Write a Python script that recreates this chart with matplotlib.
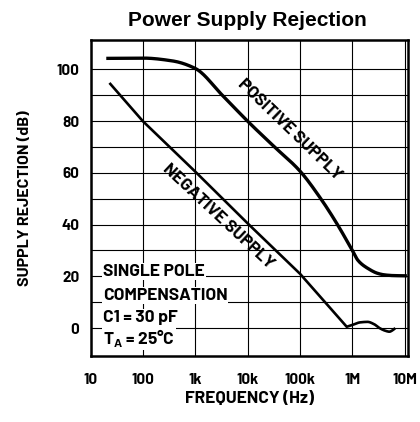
import numpy as np
import matplotlib.pyplot as plt
from matplotlib import font_manager as fm
from matplotlib.ticker import FixedLocator, NullLocator

# values (dB vs Hz)
pos_freq = [20, 100, 370, 1e3, 3.3e3, 1e4, 3.16e4, 1e5, 2.5e5, 5.2e5, 1e6, 1.3e6, 2e6, 3e6, 4e6, 6e6, 1.1e7]
pos_db = [104.3, 104.4, 103.3, 100.4, 90, 80, 70.3, 60.7, 50, 40, 30, 26, 23, 21.2, 20.6, 20.3, 20.2]

neg_freq = [23, 100, 1e3, 1e4, 1e5, 7.8e5]
neg_db = [94.8, 80, 60.5, 40.5, 21, 0.5]
wig_freq = [7.8e5, 1e6, 1.4e6, 1.95e6, 2.6e6, 3.3e6, 4.2e6, 5.1e6, 5.8e6, 6.6e6]
wig_db = [0.5, 1.2, 2.2, 2.4, 1.5, 0.0, -1.0, -1.4, -0.9, 0.0]

x_ticks = [10, 100, 1e3, 1e4, 1e5, 1e6, 1e7]
x_labels = ['10', '100', '1k', '10k', '100k', '1M', '10M']
y_ticks = [0, 20, 40, 60, 80, 100]
y_grid = [10, 30, 50, 70, 90]

notes = ['SINGLE POLE', 'COMPENSATION', 'C1 = 30 pF', r'T$_{\mathbf{A}}$ = 25°C']


def pick_font(names):
    for n in names:
        try:
            fm.findfont(fm.FontProperties(family=n, weight='bold'), fallback_to_default=False)
            return n
        except ValueError:
            pass
    return 'DejaVu Sans'


NARROW = pick_font(['Barlow', 'Barlow Semi Condensed', 'Asap Condensed'])
plt.rcParams['font.family'] = [NARROW, 'DejaVu Sans']
plt.rcParams['mathtext.fontset'] = 'custom'
plt.rcParams['mathtext.bf'] = NARROW + ':bold'
plt.rcParams['mathtext.rm'] = NARROW + ':bold'


def pchip(x, y, xs):
    x = np.asarray(x, float)
    y = np.asarray(y, float)
    h = np.diff(x)
    dlt = np.diff(y) / h
    m = np.zeros_like(y)
    for k in range(1, len(y) - 1):
        if dlt[k - 1] * dlt[k] > 0:
            w1 = 2 * h[k] + h[k - 1]
            w2 = h[k] + 2 * h[k - 1]
            m[k] = (w1 + w2) / (w1 / dlt[k - 1] + w2 / dlt[k])
    m[0] = dlt[0]
    m[-1] = dlt[-1]
    out = np.empty_like(xs)
    for i, xv in enumerate(xs):
        k = min(max(np.searchsorted(x, xv) - 1, 0), len(h) - 1)
        t = (xv - x[k]) / h[k]
        out[i] = ((2 * t**3 - 3 * t**2 + 1) * y[k] + (t**3 - 2 * t**2 + t) * h[k] * m[k]
                  + (-2 * t**3 + 3 * t**2) * y[k + 1] + (t**3 - t**2) * h[k] * m[k + 1])
    return out


def smooth(f, d, n=300):
    lf = np.log10(f)
    xs = np.linspace(lf[0], lf[-1], n)
    return 10 ** xs, pchip(lf, d, xs)


fig = plt.figure(figsize=(4.2, 4.22), dpi=100)
ax = fig.add_axes([0.2155, 0.1564, 0.7548, 0.7488])

px, py = smooth(pos_freq, pos_db)
wx, wy = smooth(wig_freq, wig_db)
ax.plot(px, py, color='black', lw=2.4, solid_capstyle='butt', zorder=3)
ax.plot(np.r_[neg_freq, wx[1:]], np.r_[neg_db, wy[1:]], color='black', lw=1.9,
        solid_capstyle='butt', solid_joinstyle='round', zorder=3)

ax.set_xscale('log')
ax.set_xlim(10, 1.13e7)
ax.set_ylim(-10.8, 111.4)

ax.xaxis.set_major_locator(FixedLocator(x_ticks))
ax.set_xticklabels(x_labels)
ax.xaxis.set_minor_locator(NullLocator())
ax.set_yticks(y_ticks)
ax.set_yticks(y_grid, minor=True)
ax.grid(True, which='both', color='black', lw=0.8)
ax.tick_params(which='both', length=0, labelsize=11)
ax.tick_params(axis='x', pad=12)
ax.tick_params(axis='y', pad=8)
for lab in ax.get_xticklabels() + ax.get_yticklabels():
    lab.set_fontweight('bold')

for s in ax.spines.values():
    s.set_linewidth(1.8)
    s.set_zorder(5)

ax.set_xlabel('FREQUENCY (Hz)', fontsize=12.5, fontweight='bold')
ax.xaxis.set_label_coords(0.5, -0.11)
ax.set_ylabel('SUPPLY REJECTION (dB)', fontsize=11.5, fontweight='bold')
ax.yaxis.set_label_coords(-0.185, 0.5)

fig.text(0.588, 0.952, 'Power Supply Rejection', ha='center', va='center',
         fontsize=15, fontweight='bold', family=['Liberation Sans', 'DejaVu Sans'])

ax.text(6.5e4, 76.6, 'POSITIVE SUPPLY', rotation=-44, ha='center', va='center',
        fontsize=12.5, fontweight='bold', zorder=4, rotation_mode='anchor')
ax.text(2.76e3, 43.3, 'NEGATIVE SUPPLY', rotation=-43, ha='center', va='center',
        fontsize=12.5, fontweight='bold', zorder=4, rotation_mode='anchor')

note_y = [21.8, 12.6, 4.2, -3.8]
for t, yv in zip(notes, note_y):
    ax.text(17.3, yv, t, ha='left', va='center', fontsize=12.5, fontweight='bold', zorder=4,
            bbox=dict(facecolor='white', edgecolor='none', pad=0.6))

fig.savefig('out.png', dpi=100)
